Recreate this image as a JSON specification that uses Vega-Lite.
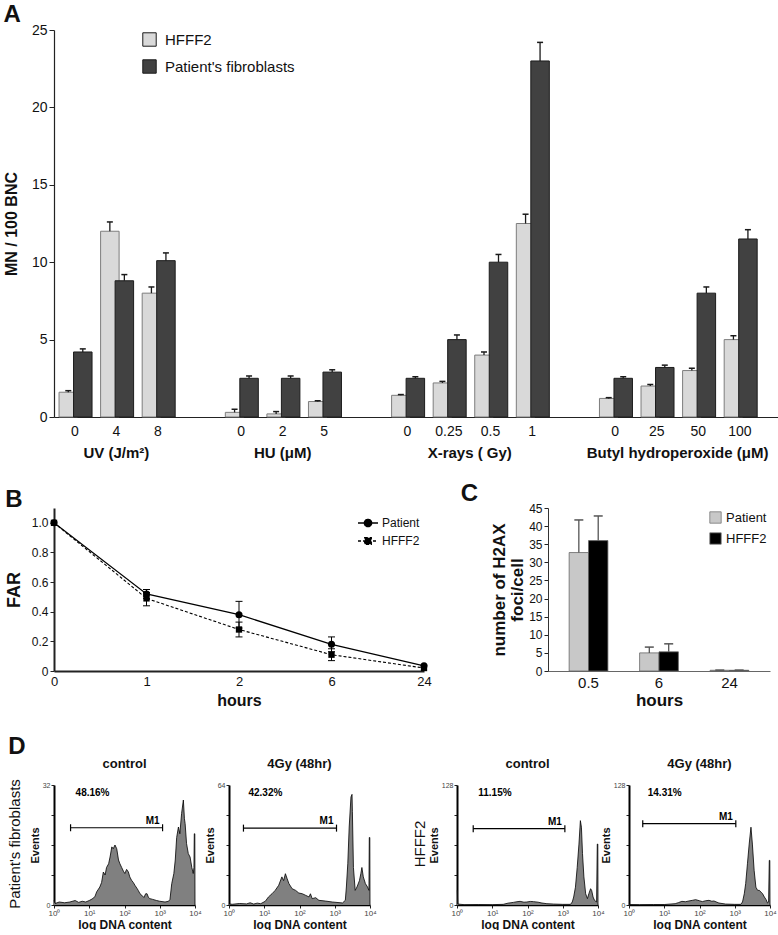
{
 "$schema": "https://vega.github.io/schema/vega-lite/v6.json",
 "padding": {"left": 3, "top": 3, "right": 0, "bottom": 0},
 "background": "white",
 "spacing": 21,
 "resolve": {"scale": {"color": "independent", "shape": "independent", "strokeDash": "independent"}, "legend": {"color": "independent", "shape": "independent", "strokeDash": "independent"}},
 "config": {
  "font": "Liberation Sans",
  "view": {"stroke": null},
  "axis": {"grid": false, "labelOverlap": false, "labelFlush": false, "domainColor": "#222", "tickColor": "#222", "labelColor": "#111", "titleColor": "#111", "labelFont": "Liberation Sans", "titleFont": "Liberation Sans"},
  "title": {"anchor": "start", "fontSize": 24, "fontWeight": "bold", "font": "Liberation Sans", "color": "#111", "offset": 2},
  "legend": {"labelFont": "Liberation Sans", "labelColor": "#111"}
 },
 "datasets": {
  "A": [
   {"slot": "UV|0", "series": "HFFF2", "v": 1.6, "hi": 1.7},
   {"slot": "UV|0", "series": "Patient's fibroblasts", "v": 4.2, "hi": 4.4},
   {"slot": "UV|4", "series": "HFFF2", "v": 12.0, "hi": 12.6},
   {"slot": "UV|4", "series": "Patient's fibroblasts", "v": 8.8, "hi": 9.2},
   {"slot": "UV|8", "series": "HFFF2", "v": 8.0, "hi": 8.4},
   {"slot": "UV|8", "series": "Patient's fibroblasts", "v": 10.1, "hi": 10.6},
   {"slot": "HU|0", "series": "HFFF2", "v": 0.3, "hi": 0.5},
   {"slot": "HU|0", "series": "Patient's fibroblasts", "v": 2.5, "hi": 2.65},
   {"slot": "HU|2", "series": "HFFF2", "v": 0.2, "hi": 0.35},
   {"slot": "HU|2", "series": "Patient's fibroblasts", "v": 2.5, "hi": 2.65},
   {"slot": "HU|5", "series": "HFFF2", "v": 1.0, "hi": 1.05},
   {"slot": "HU|5", "series": "Patient's fibroblasts", "v": 2.9, "hi": 3.05},
   {"slot": "XR|0", "series": "HFFF2", "v": 1.4, "hi": 1.45},
   {"slot": "XR|0", "series": "Patient's fibroblasts", "v": 2.5, "hi": 2.6},
   {"slot": "XR|0.25", "series": "HFFF2", "v": 2.2, "hi": 2.3},
   {"slot": "XR|0.25", "series": "Patient's fibroblasts", "v": 5.0, "hi": 5.3},
   {"slot": "XR|0.5", "series": "HFFF2", "v": 4.0, "hi": 4.2},
   {"slot": "XR|0.5", "series": "Patient's fibroblasts", "v": 10.0, "hi": 10.5},
   {"slot": "XR|1", "series": "HFFF2", "v": 12.5, "hi": 13.1},
   {"slot": "XR|1", "series": "Patient's fibroblasts", "v": 23.0, "hi": 24.2},
   {"slot": "BH|0", "series": "HFFF2", "v": 1.2, "hi": 1.25},
   {"slot": "BH|0", "series": "Patient's fibroblasts", "v": 2.5, "hi": 2.6},
   {"slot": "BH|25", "series": "HFFF2", "v": 2.0, "hi": 2.1},
   {"slot": "BH|25", "series": "Patient's fibroblasts", "v": 3.2, "hi": 3.35},
   {"slot": "BH|50", "series": "HFFF2", "v": 3.0, "hi": 3.15},
   {"slot": "BH|50", "series": "Patient's fibroblasts", "v": 8.0, "hi": 8.4},
   {"slot": "BH|100", "series": "HFFF2", "v": 5.0, "hi": 5.25},
   {"slot": "BH|100", "series": "Patient's fibroblasts", "v": 11.5, "hi": 12.1}
  ],
  "Ag": [
   {"grp": "UV", "slot": "UV|4", "label": "UV (J/m²)"},
   {"grp": "HU", "slot": "HU|2", "label": "HU (μM)"},
   {"grp": "XR", "slot": "XR|0.25", "label": "X-rays ( Gy)"},
   {"grp": "BH", "slot": "BH|25", "label": "Butyl hydroperoxide (μM)"}
  ],
  "B": [
   {"h": "0", "series": "Patient", "far": 1.0},
   {"h": "1", "series": "Patient", "far": 0.52, "lo": 0.49, "hi": 0.55},
   {"h": "2", "series": "Patient", "far": 0.38, "lo": 0.29, "hi": 0.47},
   {"h": "6", "series": "Patient", "far": 0.18, "lo": 0.13, "hi": 0.23},
   {"h": "24", "series": "Patient", "far": 0.035},
   {"h": "0", "series": "HFFF2", "far": 1.0},
   {"h": "1", "series": "HFFF2", "far": 0.49, "lo": 0.44, "hi": 0.53},
   {"h": "2", "series": "HFFF2", "far": 0.28, "lo": 0.23, "hi": 0.33},
   {"h": "6", "series": "HFFF2", "far": 0.11, "lo": 0.07, "hi": 0.15},
   {"h": "24", "series": "HFFF2", "far": 0.02}
  ],
  "C": [
   {"h": "0.5", "series": "Patient", "v": 32.7, "hi": 41.7},
   {"h": "0.5", "series": "HFFF2", "v": 36.0, "hi": 42.8},
   {"h": "6", "series": "Patient", "v": 5.0, "hi": 6.6},
   {"h": "6", "series": "HFFF2", "v": 5.3, "hi": 7.5},
   {"h": "24", "series": "Patient", "v": 0.2, "hi": 0.25},
   {"h": "24", "series": "HFFF2", "v": 0.2, "hi": 0.25}
  ],
  "gate": [
   {"p": "D1", "lo": 0.47, "hi": 3.08, "gy": 20.6, "ymax": 32, "pct": "48.16%"},
   {"p": "D2", "lo": 0.41, "hi": 3.05, "gy": 41, "ymax": 64, "pct": "42.32%"},
   {"p": "D3", "lo": 0.46, "hi": 3.06, "gy": 81.4, "ymax": 128, "pct": "11.15%"},
   {"p": "D4", "lo": 0.39, "hi": 3.03, "gy": 86.8, "ymax": 128, "pct": "14.31%"}
  ],
  "hist": [
   {"p":"D1","e":0,"v":1.2},{"p":"D1","e":0.03,"v":0.4},{"p":"D1","e":0.15,"v":0.8},{"p":"D1","e":0.3,"v":0.6},{"p":"D1","e":0.45,"v":0.8},{"p":"D1","e":0.6,"v":1.2},{"p":"D1","e":0.7,"v":0.7},{"p":"D1","e":0.8,"v":1.0},{"p":"D1","e":0.9,"v":0.8},{"p":"D1","e":1.0,"v":1.2},{"p":"D1","e":1.08,"v":1.6},{"p":"D1","e":1.16,"v":2.2},{"p":"D1","e":1.21,"v":3.5},{"p":"D1","e":1.3,"v":4.8},{"p":"D1","e":1.35,"v":6.0},{"p":"D1","e":1.4,"v":8.8},{"p":"D1","e":1.45,"v":8.0},{"p":"D1","e":1.49,"v":10},{"p":"D1","e":1.55,"v":11},{"p":"D1","e":1.59,"v":12.8},{"p":"D1","e":1.64,"v":15.5},{"p":"D1","e":1.68,"v":15.0},{"p":"D1","e":1.73,"v":16},{"p":"D1","e":1.78,"v":15},{"p":"D1","e":1.83,"v":12},{"p":"D1","e":1.87,"v":11},{"p":"D1","e":1.92,"v":10},{"p":"D1","e":1.97,"v":9.0},{"p":"D1","e":2.01,"v":8.4},{"p":"D1","e":2.06,"v":9.5},{"p":"D1","e":2.11,"v":8.8},{"p":"D1","e":2.15,"v":7.5},{"p":"D1","e":2.2,"v":6.6},{"p":"D1","e":2.25,"v":6.0},{"p":"D1","e":2.3,"v":5.2},{"p":"D1","e":2.35,"v":4.5},{"p":"D1","e":2.39,"v":3.9},{"p":"D1","e":2.44,"v":3.0},{"p":"D1","e":2.49,"v":2.6},{"p":"D1","e":2.55,"v":2.0},{"p":"D1","e":2.6,"v":3.0},{"p":"D1","e":2.64,"v":3.0},{"p":"D1","e":2.68,"v":2.0},{"p":"D1","e":2.72,"v":1.7},{"p":"D1","e":2.8,"v":1.5},{"p":"D1","e":2.91,"v":1.2},{"p":"D1","e":3.0,"v":1.0},{"p":"D1","e":3.15,"v":0.8},{"p":"D1","e":3.25,"v":1.0},{"p":"D1","e":3.29,"v":1.5},{"p":"D1","e":3.34,"v":5.7},{"p":"D1","e":3.4,"v":8.4},{"p":"D1","e":3.44,"v":12},{"p":"D1","e":3.48,"v":18},{"p":"D1","e":3.53,"v":20.8},{"p":"D1","e":3.57,"v":19},{"p":"D1","e":3.62,"v":24.4},{"p":"D1","e":3.67,"v":28},{"p":"D1","e":3.7,"v":23},{"p":"D1","e":3.72,"v":21.7},{"p":"D1","e":3.76,"v":16.4},{"p":"D1","e":3.81,"v":13.7},{"p":"D1","e":3.86,"v":12.8},{"p":"D1","e":3.91,"v":10},{"p":"D1","e":3.95,"v":8.4},{"p":"D1","e":3.97,"v":10},{"p":"D1","e":3.98,"v":19},{"p":"D1","e":3.995,"v":19},{"p":"D1","e":4.0,"v":0},
   {"p":"D2","e":0,"v":0.5},{"p":"D2","e":0.1,"v":0.4},{"p":"D2","e":0.3,"v":0.8},{"p":"D2","e":0.5,"v":0.6},{"p":"D2","e":0.6,"v":1.2},{"p":"D2","e":0.7,"v":0.5},{"p":"D2","e":0.8,"v":1.0},{"p":"D2","e":0.9,"v":0.7},{"p":"D2","e":1.03,"v":2.0},{"p":"D2","e":1.12,"v":4.3},{"p":"D2","e":1.22,"v":6.0},{"p":"D2","e":1.31,"v":7.8},{"p":"D2","e":1.41,"v":10.5},{"p":"D2","e":1.5,"v":15},{"p":"D2","e":1.55,"v":13},{"p":"D2","e":1.6,"v":16.7},{"p":"D2","e":1.65,"v":14},{"p":"D2","e":1.7,"v":11.4},{"p":"D2","e":1.79,"v":8.7},{"p":"D2","e":1.89,"v":7.8},{"p":"D2","e":1.98,"v":6.4},{"p":"D2","e":2.08,"v":6.0},{"p":"D2","e":2.17,"v":5.2},{"p":"D2","e":2.27,"v":4.3},{"p":"D2","e":2.31,"v":6.0},{"p":"D2","e":2.36,"v":3.4},{"p":"D2","e":2.46,"v":3.9},{"p":"D2","e":2.55,"v":2.5},{"p":"D2","e":2.74,"v":2.1},{"p":"D2","e":2.93,"v":1.6},{"p":"D2","e":3.22,"v":1.1},{"p":"D2","e":3.3,"v":2.5},{"p":"D2","e":3.33,"v":9.6},{"p":"D2","e":3.37,"v":22},{"p":"D2","e":3.41,"v":41.6},{"p":"D2","e":3.46,"v":57.6},{"p":"D2","e":3.49,"v":59},{"p":"D2","e":3.5,"v":50},{"p":"D2","e":3.53,"v":20},{"p":"D2","e":3.58,"v":7.8},{"p":"D2","e":3.63,"v":9.6},{"p":"D2","e":3.7,"v":13},{"p":"D2","e":3.74,"v":16.7},{"p":"D2","e":3.77,"v":20},{"p":"D2","e":3.81,"v":15},{"p":"D2","e":3.87,"v":11.4},{"p":"D2","e":3.93,"v":9.6},{"p":"D2","e":3.97,"v":7.8},{"p":"D2","e":3.98,"v":36},{"p":"D2","e":3.995,"v":36},{"p":"D2","e":4.0,"v":0},
   {"p":"D3","e":0,"v":15.6},{"p":"D3","e":0.01,"v":15.6},{"p":"D3","e":0.02,"v":1.0},{"p":"D3","e":0.2,"v":0.4},{"p":"D3","e":0.6,"v":0.5},{"p":"D3","e":1.0,"v":0.4},{"p":"D3","e":1.31,"v":0.7},{"p":"D3","e":1.45,"v":2.0},{"p":"D3","e":1.6,"v":2.8},{"p":"D3","e":1.7,"v":3.5},{"p":"D3","e":1.79,"v":3.9},{"p":"D3","e":1.9,"v":3.0},{"p":"D3","e":1.98,"v":3.2},{"p":"D3","e":2.08,"v":3.8},{"p":"D3","e":2.17,"v":3.6},{"p":"D3","e":2.3,"v":3.0},{"p":"D3","e":2.41,"v":2.1},{"p":"D3","e":2.55,"v":1.4},{"p":"D3","e":2.74,"v":1.0},{"p":"D3","e":3.0,"v":0.7},{"p":"D3","e":3.22,"v":0.7},{"p":"D3","e":3.27,"v":3.2},{"p":"D3","e":3.31,"v":8.5},{"p":"D3","e":3.36,"v":19},{"p":"D3","e":3.41,"v":40},{"p":"D3","e":3.46,"v":65},{"p":"D3","e":3.5,"v":90},{"p":"D3","e":3.53,"v":83},{"p":"D3","e":3.56,"v":55},{"p":"D3","e":3.6,"v":30},{"p":"D3","e":3.65,"v":12},{"p":"D3","e":3.7,"v":6.8},{"p":"D3","e":3.74,"v":12},{"p":"D3","e":3.79,"v":17.4},{"p":"D3","e":3.82,"v":15.6},{"p":"D3","e":3.86,"v":8.5},{"p":"D3","e":3.9,"v":5},{"p":"D3","e":3.96,"v":3.2},{"p":"D3","e":3.98,"v":65},{"p":"D3","e":3.995,"v":65},{"p":"D3","e":4.0,"v":0},
   {"p":"D4","e":0,"v":0.5},{"p":"D4","e":0.3,"v":0.4},{"p":"D4","e":0.7,"v":0.5},{"p":"D4","e":1.0,"v":0.5},{"p":"D4","e":1.31,"v":1.4},{"p":"D4","e":1.4,"v":2.5},{"p":"D4","e":1.5,"v":3.9},{"p":"D4","e":1.6,"v":3.5},{"p":"D4","e":1.7,"v":4.3},{"p":"D4","e":1.8,"v":5.0},{"p":"D4","e":1.89,"v":5.7},{"p":"D4","e":2.0,"v":4.5},{"p":"D4","e":2.08,"v":3.6},{"p":"D4","e":2.17,"v":4.5},{"p":"D4","e":2.27,"v":5.0},{"p":"D4","e":2.35,"v":4.0},{"p":"D4","e":2.41,"v":4.3},{"p":"D4","e":2.55,"v":2.1},{"p":"D4","e":2.74,"v":1.0},{"p":"D4","e":3.0,"v":0.7},{"p":"D4","e":3.17,"v":0.7},{"p":"D4","e":3.22,"v":3.2},{"p":"D4","e":3.27,"v":12},{"p":"D4","e":3.31,"v":22.8},{"p":"D4","e":3.36,"v":44},{"p":"D4","e":3.41,"v":65},{"p":"D4","e":3.46,"v":83},{"p":"D4","e":3.5,"v":65},{"p":"D4","e":3.55,"v":37},{"p":"D4","e":3.6,"v":19},{"p":"D4","e":3.65,"v":15.6},{"p":"D4","e":3.7,"v":15.6},{"p":"D4","e":3.74,"v":13.9},{"p":"D4","e":3.79,"v":12},{"p":"D4","e":3.84,"v":8.5},{"p":"D4","e":3.89,"v":5.7},{"p":"D4","e":3.93,"v":2.1},{"p":"D4","e":3.96,"v":3},{"p":"D4","e":3.98,"v":47.6},{"p":"D4","e":3.995,"v":47.6},{"p":"D4","e":4.0,"v":0}
  ]
 },
 "vconcat": [
  {
   "width": 725, "height": 387,
   "title": {"text": "A", "offset": -4},
   "data": {"name": "A"},
   "encoding": {
    "x": {"field": "slot", "type": "nominal",
     "scale": {"domain": ["UV|0","UV|4","UV|8","g1|","HU|0","HU|2","HU|5","g2|","XR|0","XR|0.25","XR|0.5","XR|1","g3|","BH|0","BH|25","BH|50","BH|100"], "paddingInner": 0, "paddingOuter": 0.22, "align": 0},
     "axis": {"title": null, "labelExpr": "split(datum.value,'|')[1]", "labelAngle": 0, "ticks": false, "labelFontSize": 14, "labelPadding": 7, "domainWidth": 1.2, "labelOverlap": false}}
   },
   "layer": [
    {"transform": [{"filter": "datum.series === 'HFFF2'"}],
     "mark": {"type": "bar", "width": 18.5, "xOffset": -6.5, "stroke": "#7d7d7d", "strokeWidth": 1},
     "encoding": {
      "y": {"field": "v", "type": "quantitative", "scale": {"domain": [0, 25], "nice": false},
       "axis": {"values": [0,5,10,15,20,25], "tickCount": 30, "labelOverlap": false, "labelFontSize": 14, "tickSize": 5, "title": "MN / 100 BNC", "titleFontSize": 16, "titleFontWeight": "bold", "titlePadding": 12, "domainWidth": 1.2}},
      "color": {"field": "series", "type": "nominal", "scale": {"domain": ["HFFF2", "Patient's fibroblasts"], "range": ["#d9d9d9", "#414141"]},
       "legend": {"title": null, "orient": "none", "legendX": 88, "legendY": 2, "symbolType": "square", "symbolSize": 180, "symbolStrokeColor": "#666", "symbolStrokeWidth": 1, "labelFontSize": 15, "rowPadding": 8, "labelOffset": 8}}
     }},
    {"transform": [{"filter": "datum.series !== 'HFFF2'"}],
     "mark": {"type": "bar", "width": 18.5, "xOffset": 8, "stroke": "#1c1c1c", "strokeWidth": 1},
     "encoding": {"y": {"field": "v", "type": "quantitative"}, "color": {"field": "series", "type": "nominal"}}},
    {"transform": [{"filter": "datum.series === 'HFFF2'"}],
     "mark": {"type": "rule", "xOffset": -6.5, "color": "#1a1a1a", "strokeWidth": 1.3},
     "encoding": {"y": {"field": "v", "type": "quantitative"}, "y2": {"field": "hi"}}},
    {"transform": [{"filter": "datum.series !== 'HFFF2'"}],
     "mark": {"type": "rule", "xOffset": 8, "color": "#1a1a1a", "strokeWidth": 1.3},
     "encoding": {"y": {"field": "v", "type": "quantitative"}, "y2": {"field": "hi"}}},
    {"transform": [{"filter": "datum.series === 'HFFF2'"}],
     "mark": {"type": "tick", "orient": "horizontal", "xOffset": -6.5, "size": 6, "thickness": 1.5, "color": "#1a1a1a", "opacity": 1},
     "encoding": {"y": {"field": "hi", "type": "quantitative"}}},
    {"transform": [{"filter": "datum.series !== 'HFFF2'"}],
     "mark": {"type": "tick", "orient": "horizontal", "xOffset": 8, "size": 6, "thickness": 1.5, "color": "#1a1a1a", "opacity": 1},
     "encoding": {"y": {"field": "hi", "type": "quantitative"}}},
    {"data": {"name": "Ag"}, "transform": [{"filter": "datum.grp === 'UV' || datum.grp === 'HU'"}],
     "mark": {"type": "text", "fontSize": 15, "fontWeight": "bold", "baseline": "middle", "dy": 36, "color": "#111"},
     "encoding": {"x": {"field": "slot", "type": "nominal"}, "y": {"datum": 0, "type": "quantitative"}, "text": {"field": "label"}}},
    {"data": {"name": "Ag"}, "transform": [{"filter": "datum.grp === 'XR' || datum.grp === 'BH'"}],
     "mark": {"type": "text", "fontSize": 15, "fontWeight": "bold", "baseline": "middle", "dy": 36, "dx": 20.8, "color": "#111"},
     "encoding": {"x": {"field": "slot", "type": "nominal"}, "y": {"datum": 0, "type": "quantitative"}, "text": {"field": "label"}}}
   ]
  },
  {
   "spacing": 27,
   "resolve": {"scale": {"color": "independent", "shape": "independent", "strokeDash": "independent"}, "legend": {"color": "independent", "shape": "independent", "strokeDash": "independent"}},
   "vconcat": [
    {
     "spacing": 28,
     "resolve": {"scale": {"color": "independent", "shape": "independent", "strokeDash": "independent"}, "legend": {"color": "independent", "shape": "independent", "strokeDash": "independent"}},
     "hconcat": [
      {
       "width": 370, "height": 163,
       "title": {"text": "B", "offset": -4},
       "data": {"name": "B"},
       "encoding": {
        "x": {"field": "h", "type": "ordinal", "sort": ["0","1","2","6","24"], "scale": {"type": "point", "padding": 0},
         "axis": {"labelAngle": 0, "labelFontSize": 13, "ticks": false, "domainWidth": 2, "title": "hours", "titleFontSize": 16, "titleFontWeight": "bold", "titlePadding": 4, "labelPadding": 4, "labelOverlap": false}}
       },
       "layer": [
        {"transform": [{"filter": "datum.series === 'Patient'"}],
         "mark": {"type": "line", "color": "black", "strokeWidth": 1.2},
         "encoding": {
          "y": {"field": "far", "type": "quantitative", "scale": {"domain": [0, 1.1], "nice": false},
           "axis": {"values": [0,0.2,0.4,0.6,0.8,1.0], "tickCount": 30, "labelOverlap": false, "labelExpr": "datum.value == 0 ? '0' : format(datum.value, '.1f')", "labelFontSize": 12, "domainWidth": 2, "tickSize": 4, "title": "FAR", "titleFontSize": 18, "titleFontWeight": "bold", "titlePadding": 8}}
         }},
        {"transform": [{"filter": "datum.series === 'HFFF2'"}],
         "mark": {"type": "line", "color": "black", "strokeWidth": 1.1, "strokeDash": [3, 2]},
         "encoding": {"y": {"field": "far", "type": "quantitative"}}},
        {"transform": [{"filter": "isValid(datum.lo)"}],
         "mark": {"type": "rule", "color": "black", "strokeWidth": 1},
         "encoding": {"y": {"field": "lo", "type": "quantitative"}, "y2": {"field": "hi"}}},
        {"transform": [{"filter": "isValid(datum.lo)"}],
         "mark": {"type": "tick", "orient": "horizontal", "size": 7, "thickness": 1, "color": "black", "opacity": 1},
         "encoding": {"y": {"field": "lo", "type": "quantitative"}}},
        {"transform": [{"filter": "isValid(datum.hi)"}],
         "mark": {"type": "tick", "orient": "horizontal", "size": 7, "thickness": 1, "color": "black", "opacity": 1},
         "encoding": {"y": {"field": "hi", "type": "quantitative"}}},
        {"transform": [{"filter": "datum.series === 'Patient'"}],
         "mark": {"type": "point", "shape": "circle", "filled": true, "color": "black", "size": 50, "opacity": 1},
         "encoding": {"y": {"field": "far", "type": "quantitative"}}},
        {"transform": [{"filter": "datum.series === 'HFFF2'"}],
         "mark": {"type": "point", "shape": "square", "filled": true, "color": "black", "size": 40, "opacity": 1},
         "encoding": {"y": {"field": "far", "type": "quantitative"}}},
        {"transform": [{"filter": "false"}],
         "mark": {"type": "point", "filled": true, "color": "black", "stroke": "black", "strokeWidth": 1.2, "size": 400, "opacity": 1},
         "encoding": {
          "y": {"field": "far", "type": "quantitative"},
          "shape": {"field": "series", "type": "nominal", "scale": {"domain": ["Patient", "HFFF2"], "range": ["M-1,0H1M-0.36,0A0.36,0.36,0,1,1,0.36,0A0.36,0.36,0,1,1,-0.36,0Z", "M-1,0H1M-0.32,-0.32H0.32V0.32H-0.32Z"]},
           "legend": {"title": null, "orient": "top-right", "offset": 4, "labelFontSize": 12, "symbolSize": 400, "rowPadding": 0, "labelOffset": 3}},
          "strokeDash": {"field": "series", "type": "nominal", "scale": {"domain": ["Patient", "HFFF2"], "range": [[1, 0], [3, 2]]},
           "legend": {"title": null, "orient": "top-right", "offset": 4, "labelFontSize": 12, "symbolSize": 400, "rowPadding": 0, "labelOffset": 3}}
         }}
       ]
      },
      {
       "width": 222, "height": 163,
       "title": {"text": "C", "dx": -30, "offset": -4},
       "data": {"name": "C"},
       "encoding": {
        "x": {"field": "h", "type": "nominal", "sort": ["0.5","6","24"], "scale": {"paddingInner": 0.45, "paddingOuter": 0.3},
         "axis": {"labelAngle": 0, "labelFontSize": 15, "ticks": false, "domainWidth": 1, "domainColor": "#666", "title": "hours", "titleFontSize": 17, "titleFontWeight": "bold", "titlePadding": 2, "labelPadding": 4, "labelOverlap": false}},
        "xOffset": {"field": "series", "type": "nominal", "sort": ["Patient", "HFFF2"]}
       },
       "layer": [
        {"mark": {"type": "bar", "stroke": "#666", "strokeWidth": 0.8},
         "encoding": {
          "y": {"field": "v", "type": "quantitative", "scale": {"domain": [0, 45], "nice": false},
           "axis": {"values": [0,5,10,15,20,25,30,35,40,45], "tickCount": 30, "labelOverlap": false, "labelFontSize": 12, "tickSize": 4, "domainColor": "#333", "title": ["number of H2AX", "foci/cell"], "titleFontSize": 17, "titleFontWeight": "bold", "titleLineHeight": 18, "titlePadding": 2}},
          "color": {"field": "series", "type": "nominal", "scale": {"domain": ["Patient", "HFFF2"], "range": ["#c8c8c8", "#000000"]},
           "legend": {"title": null, "orient": "top-right", "offset": 3, "symbolType": "square", "symbolSize": 130, "symbolStrokeColor": "#777", "symbolStrokeWidth": 0.8, "labelFontSize": 13, "rowPadding": 6, "labelOffset": 4}}
         }},
        {"mark": {"type": "rule", "color": "#555", "strokeWidth": 1.3},
         "encoding": {"y": {"field": "v", "type": "quantitative"}, "y2": {"field": "hi"}}},
        {"mark": {"type": "tick", "orient": "horizontal", "size": 9, "thickness": 1.5, "color": "#555", "opacity": 1},
         "encoding": {"y": {"field": "hi", "type": "quantitative"}}}
       ]
      }
     ]
    },
    {
     "spacing": 36,
     "title": {"text": "D", "offset": -1},
     "hconcat": [
      {
       "spacing": 2,
       "title": {"text": "Patient's fibroblasts", "orient": "left", "anchor": "middle", "fontSize": 15, "fontWeight": "normal", "offset": 6},
       "hconcat": [
        {
         "width": 141, "height": 120,
         "title": {"text": "control", "anchor": "middle", "fontSize": 13, "offset": 10},
         "layer": [
          {"data": {"name": "hist"}, "transform": [{"filter": "datum.p === 'D1'"}],
           "mark": {"type": "area", "color": "#808080", "opacity": 1, "line": {"color": "#000", "strokeWidth": 0.8}},
           "encoding": {
            "x": {"field": "e", "type": "quantitative", "scale": {"domain": [0, 4], "nice": false, "zero": false},
             "axis": {"values": [0,1,2,3,4], "tickCount": 30, "labelOverlap": false, "labelExpr": "'10' + ['⁰','¹','²','³','⁴'][datum.value]", "labelFontSize": 8, "labelColor": "#444", "tickSize": 3, "domainWidth": 1.5, "domainColor": "#000", "title": "log DNA content", "titleFontSize": 12, "titleFontWeight": "bold", "titlePadding": 2, "labelPadding": 1}},
            "y": {"field": "v", "type": "quantitative", "scale": {"domain": [0, 32], "nice": false},
             "axis": {"values": [0,8,16,24,32], "tickCount": 30, "labelOverlap": false, "labelExpr": "datum.value == 0 || datum.value == 32 ? datum.label : ''", "labelFontSize": 7, "labelColor": "#444", "tickSize": 3, "domainWidth": 2, "domainColor": "#000", "title": "Events", "titleFontSize": 11, "titleFontWeight": "bold", "titlePadding": 2, "labelPadding": 1}}
           }},
          {"data": {"name": "gate"}, "transform": [{"filter": "datum.p === 'D1'"}],
           "mark": {"type": "rule", "color": "#000", "strokeWidth": 1.2},
           "encoding": {"x": {"field": "lo", "type": "quantitative"}, "x2": {"field": "hi"}, "y": {"field": "gy", "type": "quantitative"}}},
          {"data": {"name": "gate"}, "transform": [{"filter": "datum.p === 'D1'"}],
           "mark": {"type": "tick", "orient": "vertical", "size": 7, "thickness": 1.2, "color": "#000", "opacity": 1},
           "encoding": {"x": {"field": "lo", "type": "quantitative"}, "y": {"field": "gy", "type": "quantitative"}}},
          {"data": {"name": "gate"}, "transform": [{"filter": "datum.p === 'D1'"}],
           "mark": {"type": "tick", "orient": "vertical", "size": 7, "thickness": 1.2, "color": "#000", "opacity": 1},
           "encoding": {"x": {"field": "hi", "type": "quantitative"}, "y": {"field": "gy", "type": "quantitative"}}},
          {"data": {"name": "gate"}, "transform": [{"filter": "datum.p === 'D1'"}],
           "mark": {"type": "text", "text": "M1", "fontSize": 10, "fontWeight": "bold", "align": "right", "baseline": "bottom", "dx": -3, "dy": -2},
           "encoding": {"x": {"field": "hi", "type": "quantitative"}, "y": {"field": "gy", "type": "quantitative"}}},
          {"data": {"name": "gate"}, "transform": [{"filter": "datum.p === 'D1'"}],
           "mark": {"type": "text", "fontSize": 10, "fontWeight": "bold", "align": "left", "baseline": "top", "dx": 5, "dy": 3},
           "encoding": {"x": {"field": "lo", "type": "quantitative"}, "y": {"field": "ymax", "type": "quantitative"}, "text": {"field": "pct"}}}
         ]
        },
        {
         "width": 141, "height": 120,
         "title": {"text": "4Gy  (48hr)", "anchor": "middle", "fontSize": 13, "offset": 10},
         "layer": [
          {"data": {"name": "hist"}, "transform": [{"filter": "datum.p === 'D2'"}],
           "mark": {"type": "area", "color": "#808080", "opacity": 1, "line": {"color": "#000", "strokeWidth": 0.8}},
           "encoding": {
            "x": {"field": "e", "type": "quantitative", "scale": {"domain": [0, 4], "nice": false, "zero": false},
             "axis": {"values": [0,1,2,3,4], "tickCount": 30, "labelOverlap": false, "labelExpr": "'10' + ['⁰','¹','²','³','⁴'][datum.value]", "labelFontSize": 8, "labelColor": "#444", "tickSize": 3, "domainWidth": 1.5, "domainColor": "#000", "title": "log DNA content", "titleFontSize": 12, "titleFontWeight": "bold", "titlePadding": 2, "labelPadding": 1}},
            "y": {"field": "v", "type": "quantitative", "scale": {"domain": [0, 64], "nice": false},
             "axis": {"values": [0,16,32,48,64], "tickCount": 30, "labelOverlap": false, "labelExpr": "datum.value == 0 || datum.value == 64 ? datum.label : ''", "labelFontSize": 7, "labelColor": "#444", "tickSize": 3, "domainWidth": 2, "domainColor": "#000", "title": "Events", "titleFontSize": 11, "titleFontWeight": "bold", "titlePadding": 2, "labelPadding": 1}}
           }},
          {"data": {"name": "gate"}, "transform": [{"filter": "datum.p === 'D2'"}],
           "mark": {"type": "rule", "color": "#000", "strokeWidth": 1.2},
           "encoding": {"x": {"field": "lo", "type": "quantitative"}, "x2": {"field": "hi"}, "y": {"field": "gy", "type": "quantitative"}}},
          {"data": {"name": "gate"}, "transform": [{"filter": "datum.p === 'D2'"}],
           "mark": {"type": "tick", "orient": "vertical", "size": 7, "thickness": 1.2, "color": "#000", "opacity": 1},
           "encoding": {"x": {"field": "lo", "type": "quantitative"}, "y": {"field": "gy", "type": "quantitative"}}},
          {"data": {"name": "gate"}, "transform": [{"filter": "datum.p === 'D2'"}],
           "mark": {"type": "tick", "orient": "vertical", "size": 7, "thickness": 1.2, "color": "#000", "opacity": 1},
           "encoding": {"x": {"field": "hi", "type": "quantitative"}, "y": {"field": "gy", "type": "quantitative"}}},
          {"data": {"name": "gate"}, "transform": [{"filter": "datum.p === 'D2'"}],
           "mark": {"type": "text", "text": "M1", "fontSize": 10, "fontWeight": "bold", "align": "right", "baseline": "bottom", "dx": -3, "dy": -2},
           "encoding": {"x": {"field": "hi", "type": "quantitative"}, "y": {"field": "gy", "type": "quantitative"}}},
          {"data": {"name": "gate"}, "transform": [{"filter": "datum.p === 'D2'"}],
           "mark": {"type": "text", "fontSize": 10, "fontWeight": "bold", "align": "left", "baseline": "top", "dx": 5, "dy": 3},
           "encoding": {"x": {"field": "lo", "type": "quantitative"}, "y": {"field": "ymax", "type": "quantitative"}, "text": {"field": "pct"}}}
         ]
        }
       ]
      },
      {
       "spacing": -5,
       "title": {"text": "HFFF2", "orient": "left", "anchor": "middle", "fontSize": 15, "fontWeight": "normal", "offset": 0},
       "hconcat": [
        {
         "width": 141, "height": 120,
         "title": {"text": "control", "anchor": "middle", "fontSize": 13, "offset": 10},
         "layer": [
          {"data": {"name": "hist"}, "transform": [{"filter": "datum.p === 'D3'"}],
           "mark": {"type": "area", "color": "#808080", "opacity": 1, "line": {"color": "#000", "strokeWidth": 0.8}},
           "encoding": {
            "x": {"field": "e", "type": "quantitative", "scale": {"domain": [0, 4], "nice": false, "zero": false},
             "axis": {"values": [0,1,2,3,4], "tickCount": 30, "labelOverlap": false, "labelExpr": "'10' + ['⁰','¹','²','³','⁴'][datum.value]", "labelFontSize": 8, "labelColor": "#444", "tickSize": 3, "domainWidth": 1.5, "domainColor": "#000", "title": "log DNA content", "titleFontSize": 12, "titleFontWeight": "bold", "titlePadding": 2, "labelPadding": 1}},
            "y": {"field": "v", "type": "quantitative", "scale": {"domain": [0, 128], "nice": false},
             "axis": {"values": [0,32,64,96,128], "tickCount": 30, "labelOverlap": false, "labelExpr": "datum.value == 0 || datum.value == 128 ? datum.label : ''", "labelFontSize": 7, "labelColor": "#444", "tickSize": 3, "domainWidth": 2, "domainColor": "#000", "title": "Events", "titleFontSize": 11, "titleFontWeight": "bold", "titlePadding": 2, "labelPadding": 1}}
           }},
          {"data": {"name": "gate"}, "transform": [{"filter": "datum.p === 'D3'"}],
           "mark": {"type": "rule", "color": "#000", "strokeWidth": 1.2},
           "encoding": {"x": {"field": "lo", "type": "quantitative"}, "x2": {"field": "hi"}, "y": {"field": "gy", "type": "quantitative"}}},
          {"data": {"name": "gate"}, "transform": [{"filter": "datum.p === 'D3'"}],
           "mark": {"type": "tick", "orient": "vertical", "size": 7, "thickness": 1.2, "color": "#000", "opacity": 1},
           "encoding": {"x": {"field": "lo", "type": "quantitative"}, "y": {"field": "gy", "type": "quantitative"}}},
          {"data": {"name": "gate"}, "transform": [{"filter": "datum.p === 'D3'"}],
           "mark": {"type": "tick", "orient": "vertical", "size": 7, "thickness": 1.2, "color": "#000", "opacity": 1},
           "encoding": {"x": {"field": "hi", "type": "quantitative"}, "y": {"field": "gy", "type": "quantitative"}}},
          {"data": {"name": "gate"}, "transform": [{"filter": "datum.p === 'D3'"}],
           "mark": {"type": "text", "text": "M1", "fontSize": 10, "fontWeight": "bold", "align": "right", "baseline": "bottom", "dx": -3, "dy": -2},
           "encoding": {"x": {"field": "hi", "type": "quantitative"}, "y": {"field": "gy", "type": "quantitative"}}},
          {"data": {"name": "gate"}, "transform": [{"filter": "datum.p === 'D3'"}],
           "mark": {"type": "text", "fontSize": 10, "fontWeight": "bold", "align": "left", "baseline": "top", "dx": 5, "dy": 3},
           "encoding": {"x": {"field": "lo", "type": "quantitative"}, "y": {"field": "ymax", "type": "quantitative"}, "text": {"field": "pct"}}}
         ]
        },
        {
         "width": 141, "height": 120,
         "title": {"text": "4Gy  (48hr)", "anchor": "middle", "fontSize": 13, "offset": 10},
         "layer": [
          {"data": {"name": "hist"}, "transform": [{"filter": "datum.p === 'D4'"}],
           "mark": {"type": "area", "color": "#808080", "opacity": 1, "line": {"color": "#000", "strokeWidth": 0.8}},
           "encoding": {
            "x": {"field": "e", "type": "quantitative", "scale": {"domain": [0, 4], "nice": false, "zero": false},
             "axis": {"values": [0,1,2,3,4], "tickCount": 30, "labelOverlap": false, "labelExpr": "'10' + ['⁰','¹','²','³','⁴'][datum.value]", "labelFontSize": 8, "labelColor": "#444", "tickSize": 3, "domainWidth": 1.5, "domainColor": "#000", "title": "log DNA content", "titleFontSize": 12, "titleFontWeight": "bold", "titlePadding": 2, "labelPadding": 1}},
            "y": {"field": "v", "type": "quantitative", "scale": {"domain": [0, 128], "nice": false},
             "axis": {"values": [0,32,64,96,128], "tickCount": 30, "labelOverlap": false, "labelExpr": "datum.value == 0 || datum.value == 128 ? datum.label : ''", "labelFontSize": 7, "labelColor": "#444", "tickSize": 3, "domainWidth": 2, "domainColor": "#000", "title": "Events", "titleFontSize": 11, "titleFontWeight": "bold", "titlePadding": 2, "labelPadding": 1}}
           }},
          {"data": {"name": "gate"}, "transform": [{"filter": "datum.p === 'D4'"}],
           "mark": {"type": "rule", "color": "#000", "strokeWidth": 1.2},
           "encoding": {"x": {"field": "lo", "type": "quantitative"}, "x2": {"field": "hi"}, "y": {"field": "gy", "type": "quantitative"}}},
          {"data": {"name": "gate"}, "transform": [{"filter": "datum.p === 'D4'"}],
           "mark": {"type": "tick", "orient": "vertical", "size": 7, "thickness": 1.2, "color": "#000", "opacity": 1},
           "encoding": {"x": {"field": "lo", "type": "quantitative"}, "y": {"field": "gy", "type": "quantitative"}}},
          {"data": {"name": "gate"}, "transform": [{"filter": "datum.p === 'D4'"}],
           "mark": {"type": "tick", "orient": "vertical", "size": 7, "thickness": 1.2, "color": "#000", "opacity": 1},
           "encoding": {"x": {"field": "hi", "type": "quantitative"}, "y": {"field": "gy", "type": "quantitative"}}},
          {"data": {"name": "gate"}, "transform": [{"filter": "datum.p === 'D4'"}],
           "mark": {"type": "text", "text": "M1", "fontSize": 10, "fontWeight": "bold", "align": "right", "baseline": "bottom", "dx": -3, "dy": -2},
           "encoding": {"x": {"field": "hi", "type": "quantitative"}, "y": {"field": "gy", "type": "quantitative"}}},
          {"data": {"name": "gate"}, "transform": [{"filter": "datum.p === 'D4'"}],
           "mark": {"type": "text", "fontSize": 10, "fontWeight": "bold", "align": "left", "baseline": "top", "dx": 5, "dy": 3},
           "encoding": {"x": {"field": "lo", "type": "quantitative"}, "y": {"field": "ymax", "type": "quantitative"}, "text": {"field": "pct"}}}
         ]
        }
       ]
      }
     ]
    }
   ]
  }
 ]
}
